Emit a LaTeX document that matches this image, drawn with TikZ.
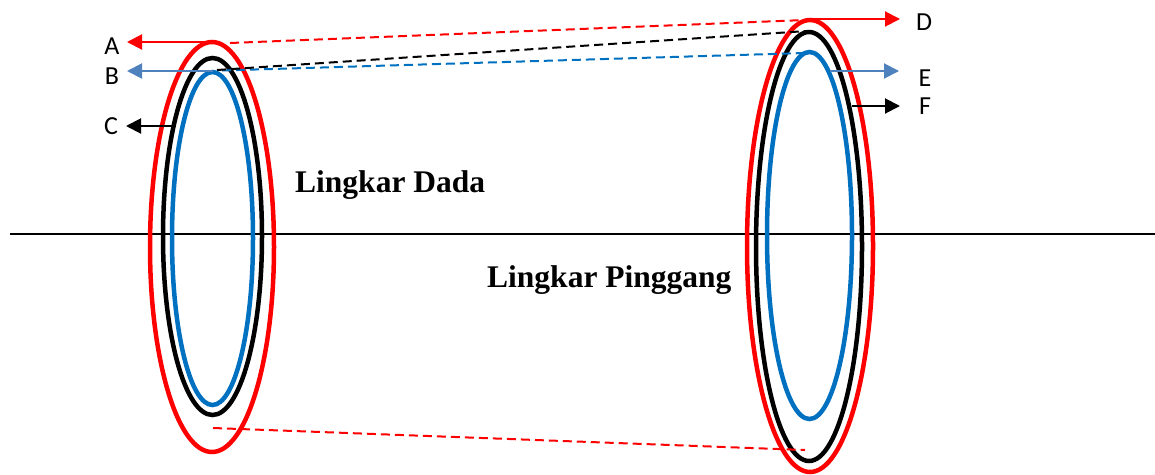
\documentclass[tikz,border=0pt]{standalone}
\usepackage{fontspec}
\setmainfont{Liberation Serif}
\newfontfamily\letterfont{Carlito}
\usetikzlibrary{shapes.geometric,arrows.meta}
\definecolor{ringred}{HTML}{FF0000}
\definecolor{ringblue}{HTML}{0070C0}
\definecolor{steel}{HTML}{4F81BD}
\tikzset{
  ring/.style={ellipse, draw, line width=4.5pt, inner sep=0pt, outer sep=0pt},
  pointer/.style={line width=2pt, -{Triangle[length=15pt,width=15pt]}},
  guide/.style={line width=2pt, dash pattern=on 9pt off 5pt},
  tag/.style={font=\letterfont\fontsize{26}{30}\selectfont, inner sep=0pt},
  title/.style={font=\bfseries\fontsize{31.5}{36}\selectfont, inner sep=0pt, anchor=base west}
}
\begin{document}
\begin{tikzpicture}[x=1pt,y=-1pt]
\useasboundingbox (0,0) rectangle (1155,474);

% level line
\coordinate (h1) at (10,234);
\coordinate (h2) at (1155,234);
\draw[line width=1.6pt] (h1) -- (h2);

% left rings
\node[ring, draw=ringred, minimum width=124pt, minimum height=410pt] (Lr) at (212,247) {};
\node[ring, draw=black, minimum width=99pt, minimum height=357pt] (Lk) at (212.5,236.5) {};
\node[ring, draw=ringblue, minimum width=81pt, minimum height=333pt] (Lb) at (212.5,238.5) {};

% right rings
\node[ring, draw=ringred, minimum width=126pt, minimum height=452pt] (Rr) at (810,246) {};
\node[ring, draw=black, minimum width=106pt, minimum height=429pt] (Rk) at (809,246.5) {};
\node[ring, draw=ringblue, minimum width=85pt, minimum height=367pt] (Rb) at (809.5,235.5) {};

% dashed guides
\coordinate (ga1) at (230,43);   \coordinate (ga2) at (805,20);
\coordinate (gb1) at (217,70);   \coordinate (gb2) at (807,31);
\coordinate (gc1) at (222,70.5); \coordinate (gc2) at (805,53);
\coordinate (gd1) at (213,428);  \coordinate (gd2) at (805,450);
\draw[guide, ringred] (ga1) -- (ga2);
\draw[guide, ringblue] (gc1) -- (gc2);
\draw[guide, black] (gb1) -- (gb2);
\draw[guide, ringred] (gd1) -- (gd2);

% labels
\node[tag] (A) at (112,46) {A};
\node[tag] (B) at (112,76) {B};
\node[tag] (C) at (111,126) {C};
\node[tag] (D) at (924,22) {D};
\node[tag] (E) at (925,78) {E};
\node[tag] (F) at (925,106) {F};

% pointer ends
\coordinate (pa) at (213,42);
\coordinate (pb) at (213,71);
\coordinate (pc) at (173,126);
\coordinate (pd) at (810,19);
\coordinate (pe) at (830,71);
\coordinate (pf) at (852,106);
\coordinate (ta) at (127,42);
\coordinate (tb) at (127,71);
\coordinate (tc) at (126,126);
\coordinate (td) at (900,19);
\coordinate (te) at (899,71);
\coordinate (tf) at (900,106);
\draw[pointer, ringred] (pa) -- (ta);
\draw[pointer, steel] (pb) -- (tb);
\draw[pointer, black] (pc) -- (tc);
\draw[pointer, ringred] (pd) -- (td);
\draw[pointer, steel] (pe) -- (te);
\draw[pointer, black] (pf) -- (tf);

% titles
\node[title] (dada) at (295,192) {Lingkar Dada};
\node[title] (pinggang) at (487,287) {Lingkar Pinggang};
\end{tikzpicture}
\end{document}
